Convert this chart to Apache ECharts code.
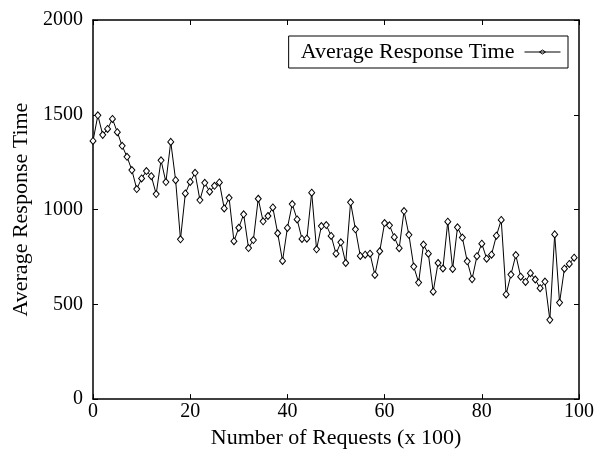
<!DOCTYPE html>
<html>
<head>
<meta charset="utf-8">
<script src="https://cdn.jsdelivr.net/npm/echarts@6/dist/echarts.min.js"></script>
<style>html,body{margin:0;padding:0;background:#fff}#c{width:602px;height:454px}</style>
</head>
<body>
<div id="c"></div>
<script>
const seriesName = 'Average Response Time';
const xTitle = 'Number of Requests (x 100)';
const yTitle = 'Average Response Time';
const requests = Array.from({length: 100}, (_, i) => i);
const responseTime = [
  1362, 1497, 1394, 1425, 1478, 1408, 1336, 1278, 1208, 1108,
  1164, 1203, 1176, 1082, 1260, 1145, 1357, 1155, 843, 1085,
  1146, 1194, 1050, 1141, 1094, 1125, 1143, 1006, 1062, 833,
  904, 975, 797, 839, 1057, 938, 966, 1011, 875, 729,
  903, 1029, 948, 845, 846, 1089, 790, 913, 918, 861,
  767, 827, 718, 1038, 896, 755, 762, 767, 655, 780,
  929, 917, 854, 796, 992, 867, 699, 615, 815, 767,
  567, 718, 689, 936, 687, 906, 852, 727, 633, 754,
  820, 741, 762, 862, 945, 552, 657, 760, 646, 618,
  664, 631, 585, 620, 418, 869, 509, 688, 713, 746
];
const font = 'Liberation Serif';
const chart = echarts.init(document.getElementById('c'), null, {renderer: 'canvas'});
const axisLine = {show: true, onZero: false, lineStyle: {color: '#000', width: 1.5}};
const tick = {show: true, inside: true, length: 5, lineStyle: {color: '#000', width: 1}};
const plain = v => String(v);
chart.setOption({
  animation: false,
  backgroundColor: '#fff',
  grid: {left: 93, right: 23, top: 20, bottom: 54, containLabel: false},
  legend: {
    show: true,
    right: 34, top: 36,
    align: 'right',
    borderColor: '#000', borderWidth: 1, borderRadius: 0,
    padding: [5, 7, 5, 12],
    itemWidth: 36, itemHeight: 8,
    textStyle: {fontFamily: font, fontSize: 22, color: '#000', padding: [0, 5, 0, 0]},
    data: [{
      name: seriesName,
      icon: 'path://M0,4 L36,4 M15,4 L18,2 L21,4 L18,6 Z',
      itemStyle: {color: '#fff', borderColor: '#000', borderWidth: 1}
    }]
  },
  xAxis: [{
    type: 'value', min: 0, max: 100, interval: 20,
    name: xTitle, nameLocation: 'middle', nameGap: 26,
    nameTextStyle: {fontFamily: font, fontSize: 22, color: '#000'},
    axisLine, axisTick: tick,
    axisLabel: {fontFamily: font, fontSize: 20, color: '#000', margin: 3, formatter: plain},
    splitLine: {show: false}
  }, {
    type: 'value', min: 0, max: 100, interval: 20, position: 'top',
    axisLine, axisTick: tick,
    axisLabel: {show: false}, splitLine: {show: false}
  }],
  yAxis: [{
    type: 'value', min: 0, max: 2000, interval: 500,
    name: yTitle, nameLocation: 'middle', nameGap: 60,
    nameTextStyle: {fontFamily: font, fontSize: 22, color: '#000'},
    axisLine, axisTick: tick,
    axisLabel: {fontFamily: font, fontSize: 20, color: '#000', margin: 10, formatter: plain},
    splitLine: {show: false}
  }, {
    type: 'value', min: 0, max: 2000, interval: 500, position: 'right',
    axisLine, axisTick: tick,
    axisLabel: {show: false}, splitLine: {show: false}
  }],
  series: [{
    name: seriesName, type: 'line',
    data: requests.map((x, i) => [x, responseTime[i]]),
    symbol: 'diamond', symbolSize: [6, 7], showAllSymbol: true,
    itemStyle: {color: '#fff', borderColor: '#000', borderWidth: 1},
    lineStyle: {color: '#000', width: 1},
    emphasis: {disabled: true}
  }]
});
</script>
</body>
</html>
